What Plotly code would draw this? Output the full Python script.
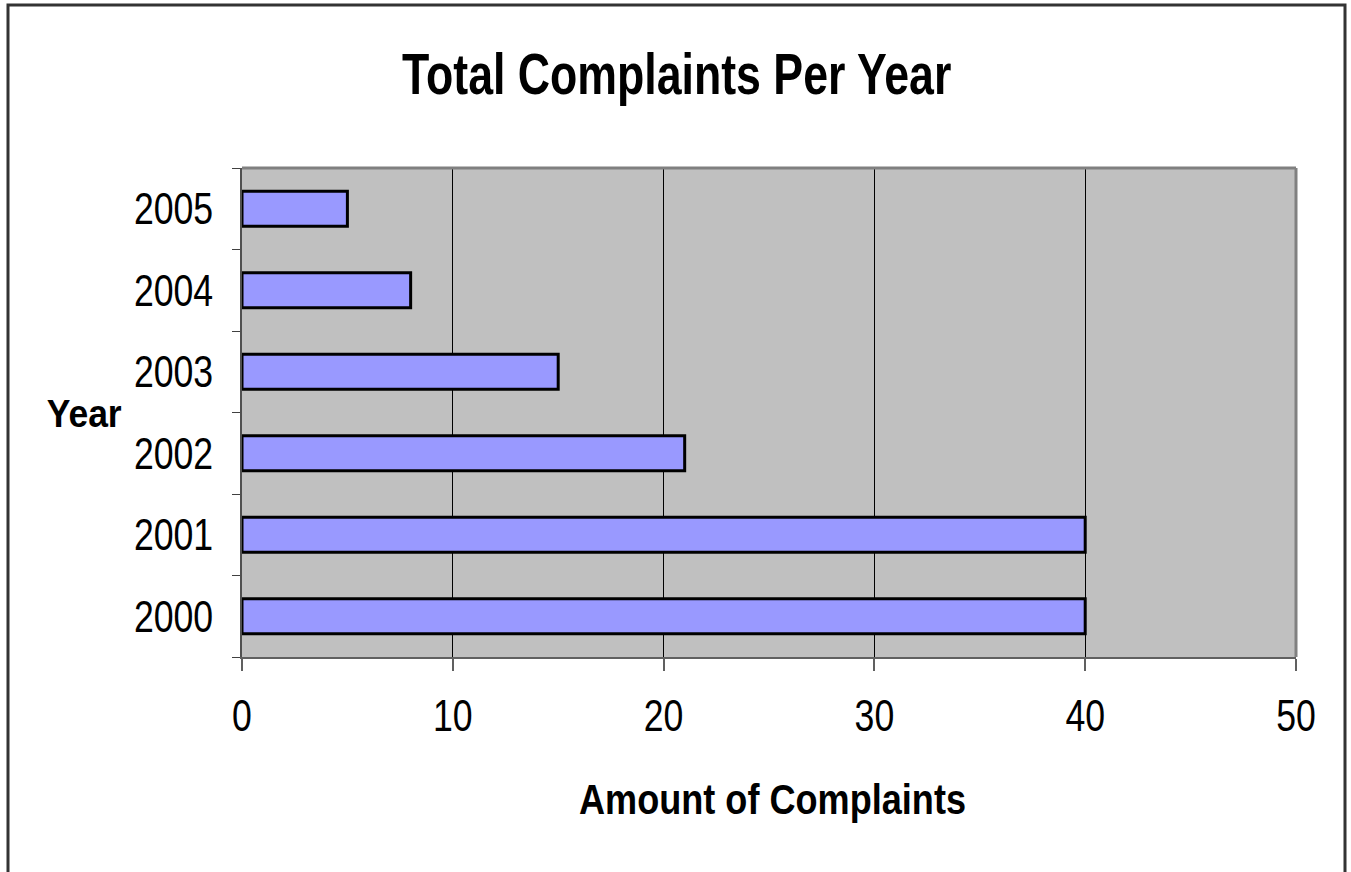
import plotly.graph_objects as go

years = ["2000", "2001", "2002", "2003", "2004", "2005"]
complaints = [40, 40, 21, 15, 8, 5]
x_ticks = [0, 10, 20, 30, 40, 50]

FONT = "Liberation Sans Narrow, Arial Narrow, Liberation Sans, Arial, sans-serif"

W, H = 1351, 872
L, R, T, B = 242, 55, 168, 215
pw, ph = W - L - R, H - T - B

def px_x(x):
    return (x - L) / pw

def px_y(y):
    return (H - B - y) / ph

fig = go.Figure()
fig.add_trace(go.Bar(
    y=years, x=complaints, orientation="h",
    marker=dict(color="#9999FF", line=dict(color="black", width=3)),
))

fig.update_layout(
    width=W, height=H,
    margin=dict(l=L, r=R, t=T, b=B, pad=0),
    paper_bgcolor="white", plot_bgcolor="#C0C0C0",
    showlegend=False, bargap=0.57,
    font=dict(family=FONT, color="black"),
    xaxis=dict(
        range=[0, 50], tickvals=x_ticks, ticktext=[str(v) for v in x_ticks],
        showgrid=True, gridcolor="black", gridwidth=1, zeroline=False,
        showline=True, linecolor="#606060", linewidth=2,
        ticks="outside", ticklen=12, tickcolor="#606060", tickwidth=2,
        tickfont=dict(size=44, family=FONT), ticklabelstandoff=7,
        fixedrange=True,
    ),
    yaxis=dict(
        type="category", categoryorder="array", categoryarray=years,
        range=[-0.5, 5.5], showgrid=False, zeroline=False,
        showline=True, linecolor="#505050", linewidth=2,
        ticks="outside", ticklen=8, tickcolor="#404040", tickwidth=1,
        tickson="boundaries",
        tickfont=dict(size=44, family=FONT), ticklabelstandoff=18,
        fixedrange=True,
    ),
    shapes=[
        dict(type="line", xref="paper", yref="paper", x0=0, x1=1, y0=1, y1=1,
             line=dict(color="#808080", width=3)),
        dict(type="line", xref="paper", yref="paper", x0=1, x1=1, y0=0, y1=1,
             line=dict(color="#808080", width=3)),
        dict(type="rect", xref="paper", yref="paper",
             x0=px_x(8), x1=px_x(1345), y0=px_y(880), y1=px_y(5),
             line=dict(color="#333333", width=3), fillcolor="rgba(0,0,0,0)", layer="above"),
    ],
    annotations=[
        dict(text="<b>Total Complaints Per Year</b>", xref="paper", yref="paper",
             x=px_x(676), y=px_y(73), showarrow=False, xanchor="center", yanchor="middle",
             font=dict(size=58, family=FONT, color="black")),
        dict(text="<b>Year</b>", xref="paper", yref="paper",
             x=px_x(84), y=px_y(413), showarrow=False, xanchor="center", yanchor="middle",
             font=dict(size=39, family=FONT, color="black")),
        dict(text="<b>Amount of Complaints</b>", xref="paper", yref="paper",
             x=px_x(772), y=px_y(799), showarrow=False, xanchor="center", yanchor="middle",
             font=dict(size=43, family=FONT, color="black")),
    ],
)

# Narrow-font emulation: condense text horizontally (Arial Narrow is not installed)
post = """
var gd = document.getElementById('{plot_id}');
var factors = {'44': 0.81, '58': 0.77, '39': 0.91, '43': 0.84};
function squeeze(){
  gd.querySelectorAll('text').forEach(function(t){
    var fs = parseFloat(window.getComputedStyle(t).fontSize);
    var f = factors[String(Math.round(fs))];
    if(!f) return;
    var base = t.getAttribute('data-base-tf');
    if(base === null){ base = t.getAttribute('transform') || ''; t.setAttribute('data-base-tf', base); }
    t.setAttribute('transform', base);
    var bb = t.getBBox();
    var anchor = t.getAttribute('text-anchor') || window.getComputedStyle(t).textAnchor;
    var cx = bb.x + bb.width/2;
    if(anchor === 'end') cx = bb.x + bb.width;
    else if(anchor === 'start') cx = bb.x;
    t.setAttribute('transform', base + ' translate(' + cx + ',0) scale(' + f + ',1) translate(' + (-cx) + ',0)');
  });
}
squeeze();
gd.on('plotly_afterplot', squeeze);
"""

fig.write_html("out.html", config={"displayModeBar": False}, post_script=post)
